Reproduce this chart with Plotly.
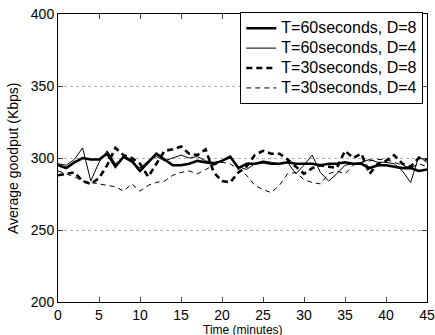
import plotly.graph_objects as go

minutes = list(range(0, 46))

t60_d8 = [295, 293, 297, 300, 299, 299, 303, 294, 301, 298, 291, 297, 303, 299, 295, 295,
          296, 298, 297, 296, 298, 301, 293, 296, 296, 297, 296, 296, 297, 296, 296, 296,
          295, 296, 296, 297, 296, 296, 293, 295, 295, 294, 293, 293, 291, 292]
t60_d4 = [296, 295, 299, 307, 284, 297, 305, 296, 300, 297, 293, 298, 301, 298, 300, 302,
          300, 301, 298, 297, 298, 300, 294, 292, 296, 298, 297, 296, 297, 289, 295, 302,
          290, 284, 289, 295, 296, 297, 299, 297, 297, 296, 291, 283, 301, 297]
t30_d8 = [288, 289, 290, 284, 282, 286, 295, 307, 302, 300, 296, 287, 296, 305, 306, 308,
          303, 302, 306, 290, 284, 283, 290, 294, 302, 305, 303, 303, 299, 294, 289, 293,
          295, 294, 293, 305, 300, 303, 289, 296, 298, 302, 296, 294, 300, 299]
t30_d4 = [291, 289, 287, 284, 283, 282, 281, 280, 277, 282, 277, 281, 283, 284, 288, 290,
          291, 289, 292, 295, 297, 296, 292, 288, 281, 278, 276, 281, 289, 290, 285, 283,
          282, 289, 291, 289, 295, 297, 298, 299, 299, 297, 295, 293, 296, 294]

names = ["T=60seconds, D=8", "T=60seconds, D=4", "T=30seconds, D=8", "T=30seconds, D=4"]
series = [t60_d8, t60_d4, t30_d8, t30_d4]
widths = [2.6, 1.0, 2.6, 1.0]
dashes = ["solid", "solid", "6px,4px", "5px,4px"]

fig = go.Figure()
for n, s, w, d in zip(names, series, widths, dashes):
    fig.add_trace(go.Scatter(x=minutes, y=s, mode="lines",
                             name='<span style="font-size:16px">' + n + '</span>',
                             line=dict(color="black", width=w, dash=d)))

font = "Liberation Sans, Arial, sans-serif"
fig.update_layout(
    width=435, height=335,
    margin=dict(l=58, r=8, t=14, b=33),
    paper_bgcolor="white", plot_bgcolor="white",
    font=dict(family=font, size=14, color="black"),
    showlegend=True,
    legend=dict(x=0.99, xanchor="right", y=1.006, yanchor="top",
                bgcolor="white", bordercolor="black", borderwidth=1,
                font=dict(size=13), tracegroupgap=0),
    xaxis=dict(range=[0, 45], dtick=5, ticks="inside", ticklen=5, showline=True,
               linecolor="black", linewidth=1, mirror="ticks", showgrid=False,
               zeroline=False, tickfont=dict(size=14), automargin=False),
    yaxis=dict(range=[200, 400], dtick=50, ticks="inside", ticklen=5, showline=True,
               linecolor="black", linewidth=1, mirror="ticks", showgrid=True,
               gridcolor="#b0b0b0", griddash="dot", gridwidth=1, zeroline=False,
               tickfont=dict(size=14), automargin=False),
    annotations=[
        dict(text="Time (minutes)", x=0.5, y=0, xref="paper", yref="paper",
             xanchor="center", yanchor="top", yshift=-18.5, showarrow=False,
             font=dict(size=12)),
        dict(text="Average goodput (Kbps)", x=0, y=0.5, xref="paper", yref="paper",
             xanchor="center", yanchor="middle", xshift=-45, textangle=-90,
             showarrow=False, font=dict(size=14)),
    ],
)

fig.write_html("out.html", config={"displayModeBar": False},
               post_script="document.body.style.margin='0';document.body.style.overflow='hidden';")
